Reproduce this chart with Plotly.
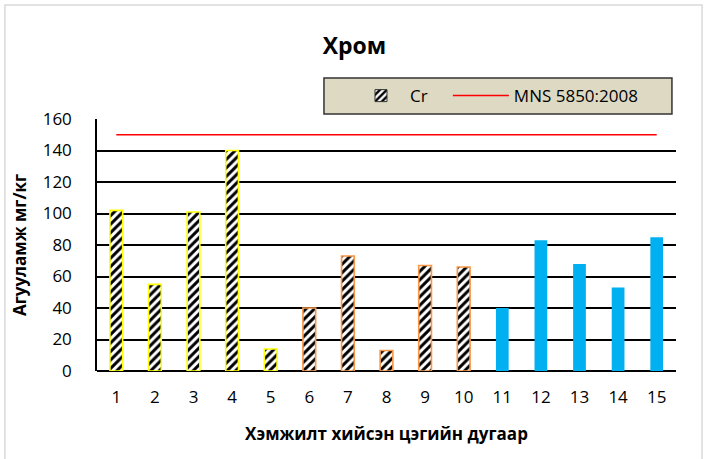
import plotly.graph_objects as go

# Sampling point numbers and chromium concentrations (mg/kg)
points = [1, 2, 3, 4, 5, 6, 7, 8, 9, 10, 11, 12, 13, 14, 15]
cr_values = [102, 55, 101, 140, 14, 40, 73, 13, 67, 66, 40, 83, 68, 53, 85]
# MNS 5850:2008 permissible level
mns_limit = [150, 150, 150, 150, 150, 150, 150, 150, 150, 150, 150, 150, 150, 150, 150]

FONT = "'Open Sans', sans-serif"
BAR_W = 0.33

fig = go.Figure()

hatch = dict(shape="/", fgcolor="black", bgcolor="white", size=6, solidity=0.5, fillmode="replace")

# Points 1-5: hatched with yellow outline
fig.add_trace(go.Bar(
    x=points[0:5], y=cr_values[0:5], width=BAR_W, showlegend=False, legendgroup="cr",
    marker=dict(color="white", pattern=hatch, line=dict(color="#FFFF00", width=1.6)),
))
# Points 6-10: hatched with orange outline
fig.add_trace(go.Bar(
    x=points[5:10], y=cr_values[5:10], width=BAR_W, showlegend=False, legendgroup="cr",
    marker=dict(color="white", pattern=hatch, line=dict(color="#F79646", width=1.6)),
))
# Points 11-15: solid blue
fig.add_trace(go.Bar(
    x=points[10:15], y=cr_values[10:15], width=BAR_W, showlegend=False, legendgroup="cr",
    marker=dict(color="#00B0F0", line=dict(color="#00B0F0", width=0)),
))
# Legend entry for the Cr series
fig.add_trace(go.Bar(
    x=[None], y=[None], name="Cr", legendgroup="cr", legend="legend",
    marker=dict(color="white", pattern=hatch, line=dict(color="#333333", width=1)),
))
# Standard limit line
fig.add_trace(go.Scatter(
    x=points, y=mns_limit, mode="lines", name="MNS 5850:2008", legend="legend2",
    line=dict(color="#FF0000", width=1.5),
))

legend_common = dict(orientation="h", xanchor="left", y=1.091, yanchor="middle",
                     bgcolor="rgba(0,0,0,0)", borderwidth=0,
                     font=dict(family=FONT, size=17, color="black"))

fig.update_layout(
    width=709, height=459,
    margin=dict(l=97, r=33, t=119, b=88),
    paper_bgcolor="white", plot_bgcolor="white",
    barmode="overlay",
    font=dict(family=FONT, size=17, color="black"),
    title=dict(text="<b>Хром</b>", x=0.5, xanchor="center", y=0.9, yanchor="middle",
               font=dict(family=FONT, size=23, color="black")),
    legend=dict(x=0.4404, itemwidth=48, **legend_common),
    legend2=dict(x=0.606, itemwidth=56, **legend_common),
    xaxis=dict(
        range=[0.5, 15.5], tickmode="array", tickvals=points, ticktext=[str(p) for p in points],
        showgrid=False, zeroline=False, showline=False, ticks="", ticklabelstandoff=14,
        tickfont=dict(family=FONT, size=17, color="black"),
        title=dict(text="<b>Хэмжилт хийсэн цэгийн дугаар</b>", standoff=21,
                   font=dict(family=FONT, size=17, color="black")),
    ),
    yaxis=dict(
        range=[0, 160], tickmode="array", tickvals=[0, 20, 40, 60, 80, 100, 120, 140, 160],
        showgrid=True, gridcolor="black", gridwidth=1.5,
        zeroline=True, zerolinecolor="black", zerolinewidth=1.5,
        showline=True, linecolor="black", linewidth=1.5, ticks="", ticklabelstandoff=20,
        tickfont=dict(family=FONT, size=17, color="black"),
        title=dict(text="<b>Агууламж мг/кг</b>", standoff=12,
                   font=dict(family=FONT, size=17, color="black")),
    ),
    shapes=[
        # chart frame
        dict(type="rect", xref="paper", yref="paper",
             x0=-0.159, x1=1.045, y0=-0.45, y1=1.452,
             line=dict(color="#D9D9D9", width=1.5), fillcolor="rgba(0,0,0,0)", layer="below"),
        # legend box
        dict(type="rect", xref="paper", yref="paper",
             x0=0.392, x1=0.993, y0=1.020, y1=1.163,
             line=dict(color="#333333", width=1.5), fillcolor="#DDD9C3", layer="above"),
    ],
)

fig.write_html("out.html")
